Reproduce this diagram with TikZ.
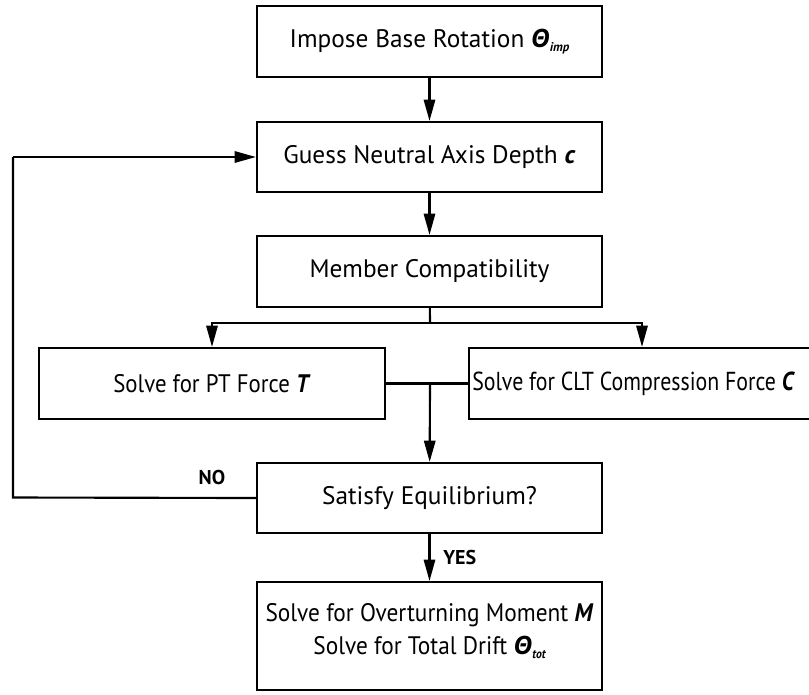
\documentclass[tikz,border=0pt]{standalone}
\usepackage{fontspec}
\setmainfont{PT Sans}
\newfontfamily\cltfont[FakeStretch=0.84]{PT Sans}
\newfontfamily\ptfont[FakeStretch=0.9]{PT Sans}
\newfontfamily\resfont[FakeStretch=0.92]{PT Sans}
\newfontfamily\grkfont{Open Sans}
\usetikzlibrary{arrows.meta}
\newcommand{\thetasym}{{\grkfont\bfseries\itshape Θ}}
\newcommand{\subtxt}[1]{\raisebox{-0.3ex}{\fontsize{9.5}{10}\selectfont\bfseries\itshape #1}}
\tikzset{
  box/.style={draw=black, line width=1.6pt, inner sep=0pt, align=center, fill=white},
  bodytext/.style={font=\fontsize{19}{23.5}\selectfont},
  pttext/.style={font={\ptfont\fontsize{19}{23.5}\selectfont}},
  clttext/.style={font={\cltfont\fontsize{19.5}{23.5}\selectfont}},
  restext/.style={font={\resfont\fontsize{19}{23}\selectfont}},
  conn/.style={line width=1.6pt},
  arr/.style={conn, -{Triangle[length=16pt,width=8.5pt]}},
  lbl/.style={font=\bfseries\fontsize{15}{18}\selectfont, inner sep=0pt}
}
\begin{document}
\begin{tikzpicture}[x=0.75pt, y=-0.75pt]
\useasboundingbox (0,0) rectangle (809,694);
\fill[white] (0,0) rectangle (809,694);
\node[box, bodytext, minimum width=345*0.75pt, minimum height=71*0.75pt] (imp) at (429.5,41.5)
  {Impose Base Rotation \thetasym\subtxt{imp}};
\node[box, bodytext, minimum width=345*0.75pt, minimum height=70*0.75pt] (guess) at (429.5,157)
  {Guess Neutral Axis Depth \textbf{\textit{c}}};
\node[box, bodytext, minimum width=345*0.75pt, minimum height=71*0.75pt] (mem) at (429.5,271.5)
  {Member Compatibility};
\node[box, pttext, minimum width=346*0.75pt, minimum height=71*0.75pt] (pt) at (212,383.5)
  {Solve for PT Force \textbf{\textit{T}}};
\node[box, minimum width=360*0.75pt, minimum height=71*0.75pt] (clt) at (649,383.5) {};
\node[clttext, anchor=west, inner sep=0pt] (clttxt) at (472,383.5)
  {Solve for CLT Compression Force \textbf{\textit{C}}};
\node[box, bodytext, minimum width=345*0.75pt, minimum height=70*0.75pt] (sat) at (429.5,498)
  {Satisfy Equilibrium?};
\node[box, restext, minimum width=345*0.75pt, minimum height=108*0.75pt] (res) at (429.5,636)
  {\raisebox{1.1ex}{Solve for Overturning Moment \textbf{\textit{M}}}\\[0pt]
   \raisebox{1.1ex}{Solve for Total Drift \thetasym\subtxt{tot}}};
\coordinate (split) at (430,323);
\coordinate (join) at (430,383.5);
\coordinate (loopb) at (13,497.5);
\coordinate (loopt) at (13,157);
\draw[arr] (imp) -- (guess);
\draw[arr] (guess) -- (mem);
\draw[conn] (mem) -- (split);
\draw[arr] (split) -| (pt.north);
\draw[arr] (split) -| ([xshift=-5.25pt]clt.north);
\draw[conn] (pt.east) -- (clt.west);
\draw[arr] (join) -- (sat);
\draw[arr] (sat) -- (res);
\draw[conn] (sat.west) -- (loopb) -- (loopt);
\draw[arr] (loopt) -- (guess.west);
\node[lbl] (no) at (212,477) {NO};
\node[lbl, anchor=west] (yes) at (443,557) {YES};
\end{tikzpicture}
\end{document}
